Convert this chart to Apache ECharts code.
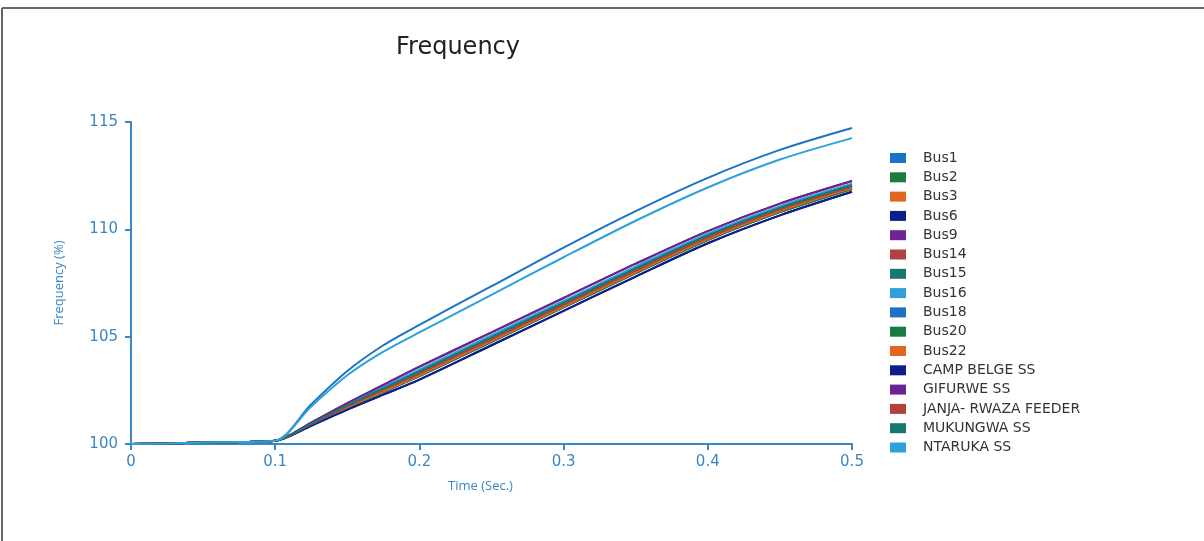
<!DOCTYPE html>
<html>
<head>
<meta charset="utf-8">
<script src="https://cdn.jsdelivr.net/npm/echarts@6/dist/echarts.min.js"></script>
<style>
html,body{margin:0;padding:0;background:#fff;}
#chart{width:1204px;height:541px;}
</style>
</head>
<body>
<div id="chart"></div>
<script>
const times = [0, 0.025, 0.05, 0.075, 0.1, 0.125, 0.15, 0.175, 0.2, 0.25, 0.3, 0.35, 0.4, 0.45, 0.5];

const bus1      = [100, 100.02, 100.07, 100.09, 100.15, 101.85, 103.4, 104.6, 105.55, 107.35, 109.15, 110.85, 112.4, 113.7, 114.72];
const bus2      = [100, 100.02, 100.07, 100.09, 100.15, 100.9, 101.68, 102.42, 103.16, 104.76, 106.36, 107.96, 109.5, 110.8, 111.88];
const bus3      = [100, 100.02, 100.07, 100.09, 100.15, 100.9, 101.7, 102.45, 103.2, 104.8, 106.4, 108.0, 109.55, 110.85, 111.92];
const bus6      = [100, 100.02, 100.07, 100.09, 100.15, 100.85, 101.6, 102.3, 103.0, 104.6, 106.2, 107.8, 109.35, 110.65, 111.75];
const bus9      = [100, 100.02, 100.07, 100.09, 100.15, 101.0, 101.9, 102.75, 103.6, 105.2, 106.8, 108.4, 109.92, 111.2, 112.25];
const bus14     = [100, 100.02, 100.07, 100.09, 100.15, 100.92, 101.75, 102.52, 103.28, 104.88, 106.48, 108.08, 109.62, 110.92, 111.98];
const bus15     = [100, 100.02, 100.07, 100.09, 100.15, 100.95, 101.8, 102.6, 103.38, 104.98, 106.58, 108.18, 109.72, 111.0, 112.05];
const bus16     = [100, 100.02, 100.07, 100.09, 100.15, 100.97, 101.85, 102.67, 103.47, 105.07, 106.67, 108.27, 109.8, 111.08, 112.12];
const bus18     = [100, 100.02, 100.07, 100.09, 100.15, 100.94, 101.78, 102.57, 103.35, 104.95, 106.55, 108.15, 109.68, 110.97, 112.02];
const bus20     = [100, 100.02, 100.07, 100.09, 100.15, 100.9, 101.68, 102.42, 103.16, 104.76, 106.36, 107.96, 109.5, 110.8, 111.88];
const bus22     = [100, 100.02, 100.07, 100.09, 100.15, 100.9, 101.7, 102.45, 103.2, 104.8, 106.4, 108.0, 109.55, 110.85, 111.92];
const campBelge = [100, 100.02, 100.07, 100.09, 100.15, 100.85, 101.6, 102.3, 103.0, 104.6, 106.2, 107.8, 109.35, 110.65, 111.75];
const gifurwe   = [100, 100.02, 100.07, 100.09, 100.15, 101.0, 101.9, 102.75, 103.6, 105.2, 106.8, 108.4, 109.92, 111.2, 112.25];
const janja     = [100, 100.02, 100.07, 100.09, 100.15, 100.92, 101.75, 102.52, 103.28, 104.88, 106.48, 108.08, 109.62, 110.92, 111.98];
const mukungwa  = [100, 100.02, 100.07, 100.09, 100.15, 100.95, 101.8, 102.6, 103.38, 104.98, 106.58, 108.18, 109.72, 111.0, 112.05];
const ntaruka   = [100, 100.02, 100.07, 100.09, 100.15, 101.75, 103.2, 104.3, 105.2, 106.95, 108.7, 110.4, 111.95, 113.25, 114.25];

const seriesNames = ['Bus1','Bus2','Bus3','Bus6','Bus9','Bus14','Bus15','Bus16','Bus18','Bus20','Bus22','CAMP BELGE SS','GIFURWE SS','JANJA- RWAZA FEEDER','MUKUNGWA SS','NTARUKA SS'];
const seriesValues = [bus1,bus2,bus3,bus6,bus9,bus14,bus15,bus16,bus18,bus20,bus22,campBelge,gifurwe,janja,mukungwa,ntaruka];
const colors = ['#1b73c6','#1a7a3f','#e2661f','#0c1f8a','#6b2492','#b1423b','#15796d','#2ea1db','#1b73c6','#1a7a3f','#e2661f','#0c1f8a','#6b2492','#b1423b','#15796d','#2ea1db'];
const yTicks = [100, 105, 110, 115];
const xTicks = [0, 0.1, 0.2, 0.3, 0.4, 0.5];

const axisColor = '#3b87c4';
const chart = echarts.init(document.getElementById('chart'));
chart.setOption({
  animation: false,
  backgroundColor: '#fff',
  color: colors,
  title: {
    text: 'Frequency', left: 396, top: 36, padding: 0,
    textStyle: {fontFamily: 'DejaVu Sans', fontSize: 24, fontWeight: 'normal', color: '#222'}
  },
  graphic: [
    {type: 'line', shape: {x1: 2, y1: 8, x2: 1204, y2: 8}, style: {stroke: '#666', lineWidth: 2}},
    {type: 'line', shape: {x1: 2, y1: 8, x2: 2, y2: 541}, style: {stroke: '#666', lineWidth: 2}}
  ],
  grid: {left: 131, right: 352, top: 122, bottom: 97},
  legend: {
    orient: 'vertical', left: 890, top: 151, padding: 0,
    itemWidth: 16, itemHeight: 10, itemGap: 5.3,
    icon: 'rect',
    textStyle: {fontFamily: 'DejaVu Sans', fontSize: 14, color: '#333', lineHeight: 14, padding: [0, 0, 0, 12]}
  },
  xAxis: {
    type: 'value', min: 0, max: 0.5, interval: 0.1,
    name: 'Time (Sec.)', nameLocation: 'middle', nameGap: 36,
    nameTextStyle: {fontFamily: 'Open Sans', fontSize: 13, color: axisColor, padding: [0, 22, 0, 0]},
    axisLine: {show: true, lineStyle: {color: axisColor, width: 2}},
    axisTick: {show: true, length: 6, lineStyle: {color: axisColor, width: 2}},
    axisLabel: {fontFamily: 'DejaVu Sans', fontSize: 15, color: axisColor, margin: 11,
      formatter: v => { const s = xTicks.find(t => Math.abs(t - v) < 1e-9); return s === undefined ? '' : String(s); }},
    splitLine: {show: false}
  },
  yAxis: {
    type: 'value', min: 100, max: 115, interval: 5,
    name: 'Frequency (%)', nameLocation: 'middle', nameGap: 65, nameRotate: 90,
    nameTextStyle: {fontFamily: 'Liberation Sans Narrow, Open Sans', fontSize: 13, color: axisColor},
    axisLine: {show: true, lineStyle: {color: axisColor, width: 2}},
    axisTick: {show: true, length: 6, lineStyle: {color: axisColor, width: 2}},
    axisLabel: {fontFamily: 'DejaVu Sans', fontSize: 15, color: axisColor, margin: 13,
      formatter: v => yTicks.includes(v) ? String(v) : ''},
    splitLine: {show: false}
  },
  series: seriesNames.map((n, i) => ({
    name: n, type: 'line', smooth: 0.3, showSymbol: false,
    lineStyle: {width: 2, color: colors[i]},
    itemStyle: {color: colors[i]},
    data: times.map((t, k) => [t, seriesValues[i][k]])
  }))
});
</script>
</body>
</html>
